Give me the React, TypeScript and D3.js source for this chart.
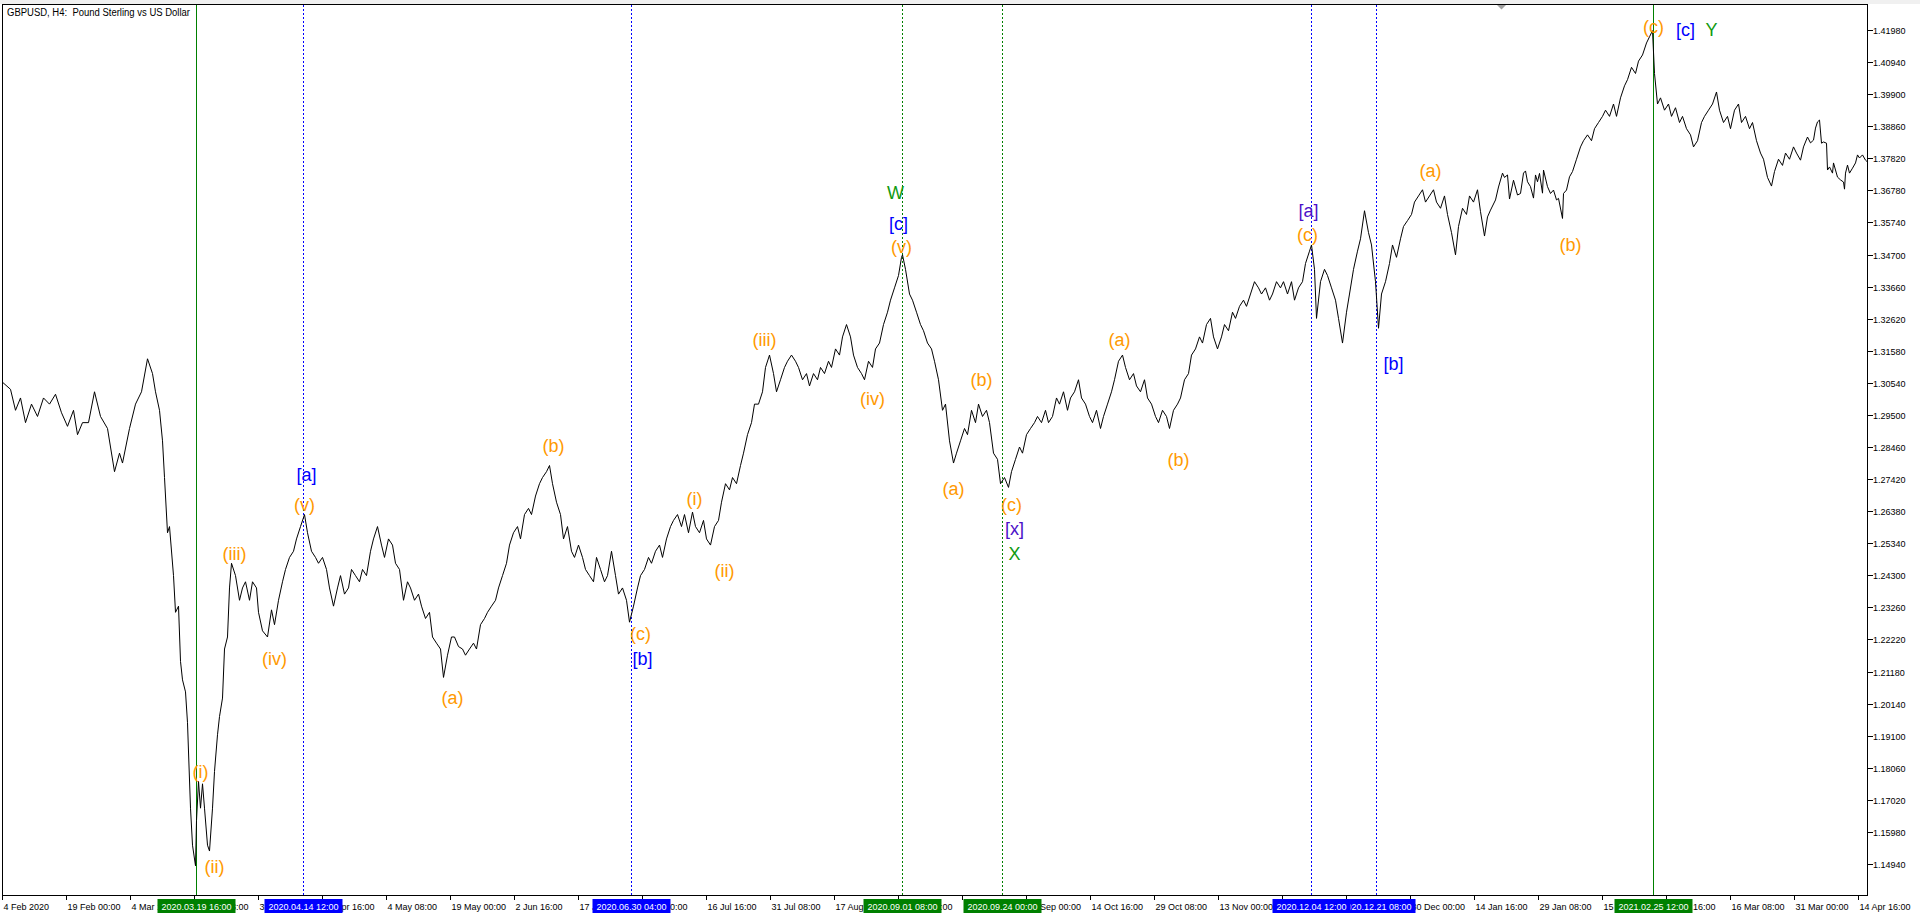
import React from 'react';
import * as d3 from 'd3';

// ---------- data ----------
const symbolTitle = 'GBPUSD, H4:  Pound Sterling vs US Dollar';

// right price axis tick values
const priceTicks = [
  1.4198, 1.4094, 1.399, 1.3886, 1.3782, 1.3678, 1.3574, 1.347, 1.3366, 1.3262,
  1.3158, 1.3054, 1.295, 1.2846, 1.2742, 1.2638, 1.2534, 1.243, 1.2326, 1.2222,
  1.2118, 1.2014, 1.191, 1.1806, 1.1702, 1.1598, 1.1494,
];

// bottom time axis: bar index of each tick and its label
const timeTickBars = [
  0, 64, 128, 192, 256, 320, 384, 448, 512, 576, 640, 704, 768, 832, 896, 960,
  1024, 1088, 1152, 1216, 1280, 1344, 1408, 1472, 1536, 1600, 1664, 1728, 1792, 1856,
];
const timeTickLabels = [
  '4 Feb 2020', '19 Feb 00:00', '4 Mar 16:00', '19 Mar 08:00', '3 Apr 00:00', '17 Apr 16:00',
  '4 May 08:00', '19 May 00:00', '2 Jun 16:00', '17 Jun 08:00', '2 Jul 00:00', '16 Jul 16:00',
  '31 Jul 08:00', '17 Aug 00:00', '31 Aug 16:00', '15 Sep 08:00', '30 Sep 00:00', '14 Oct 16:00',
  '29 Oct 08:00', '13 Nov 00:00', '27 Nov 16:00', '14 Dec 08:00', '30 Dec 00:00', '14 Jan 16:00',
  '29 Jan 08:00', '15 Feb 00:00', '1 Mar 16:00', '16 Mar 08:00', '31 Mar 00:00', '14 Apr 16:00',
];

// vertical marker lines
const markerBars = [194, 301, 629, 900, 1000, 1309, 1374, 1651];
const markerStamps = [
  '2020.03.19 16:00', '2020.04.14 12:00', '2020.06.30 04:00', '2020.09.01 08:00',
  '2020.09.24 00:00', '2020.12.04 12:00', '2020.12.21 08:00', '2021.02.25 12:00',
];
const markerKinds = ['major', 'minor', 'minor', 'middle', 'middle', 'minor', 'minor', 'major'];

// wave labels: text, bar, price, degree
const waveText = [
  '(i)', '(ii)', '(iii)', '(iv)', '(v)', '[a]', '(a)', '(b)', '(c)', '[b]',
  '(i)', '(ii)', '(iii)', '(iv)', '(v)', '[c]', 'W', '(a)', '(b)', '(c)', '[x]', 'X',
  '(a)', '(b)', '(c)', '[a]', '[b]', '(a)', '(b)', '(c)', '[c]', 'Y',
];
const waveBar = [
  198, 212, 232, 272, 302, 304, 450, 551, 638, 640,
  692, 722, 762, 870, 899, 896, 893, 951, 979, 1009, 1012, 1012,
  1117, 1176, 1305, 1306, 1391, 1428, 1568, 1651, 1683, 1709,
];
const wavePrice = [
  1.1794, 1.1484, 1.25, 1.2159, 1.2659, 1.2755, 1.2032, 1.285, 1.2242, 1.2159,
  1.2679, 1.2445, 1.3195, 1.3001, 1.3497, 1.3569, 1.3672, 1.2711, 1.3064, 1.2659, 1.258, 1.25,
  1.3195, 1.2806, 1.3533, 1.3612, 1.3116, 1.3743, 1.3501, 1.4208, 1.42, 1.42,
];
const waveDegree = [
  'minute', 'minute', 'minute', 'minute', 'minute', 'minor', 'minute', 'minute', 'minute', 'minor',
  'minute', 'minute', 'minute', 'minute', 'minute', 'minor', 'primary', 'minute', 'minute', 'minute', 'minorAlt', 'primary',
  'minute', 'minute', 'minute', 'minorAlt', 'minor', 'minute', 'minute', 'minute', 'minor', 'primary',
];

// H4 close line: [bar index, close]
const closeSeries: [number, number][] = [
  [0, 1.3056], [8, 1.3033], [13, 1.2965], [18, 1.3005], [23, 1.2925], [29, 1.2985], [35, 1.2945],
  [41, 1.3005], [47, 1.2985], [53, 1.3017], [59, 1.2957], [65, 1.2913], [71, 1.2965], [75, 1.2886],
  [80, 1.2925], [86, 1.2925], [92, 1.3025], [98, 1.2945], [105, 1.2906], [112, 1.2766], [117, 1.2826],
  [120, 1.2794], [127, 1.2906], [133, 1.2985], [139, 1.3025], [145, 1.3132], [150, 1.3084], [153, 1.3025],
  [157, 1.2965],
  [160, 1.2866], [162, 1.2747], [165, 1.2568], [167, 1.2588], [171, 1.2429], [173, 1.231], [176, 1.233],
  [178, 1.2151], [180, 1.2091], [183, 1.2052], [185, 1.1952], [188, 1.1675], [190, 1.1555], [193, 1.1488],
  [194, 1.1635], [196, 1.1762], [198, 1.1675], [200, 1.1754], [202, 1.1675], [205, 1.1555], [207, 1.1536],
  [210, 1.1675], [212, 1.1794], [215, 1.1913], [217, 1.1972], [220, 1.2032], [222, 1.2191], [225, 1.223],
  [227, 1.2389], [229, 1.2469],
  [233, 1.2429], [237, 1.2349], [240, 1.2389], [243, 1.2409], [247, 1.2349], [250, 1.2409], [254, 1.2389],
  [256, 1.231], [260, 1.225], [265, 1.223], [269, 1.2318], [272, 1.227], [276, 1.2349], [280, 1.2409],
  [283, 1.2449], [287, 1.2488], [291, 1.2508], [294, 1.2548], [298, 1.2588], [302, 1.2627], [305, 1.2568],
  [309, 1.2508], [313, 1.2488], [316, 1.2469],
  [320, 1.2488], [324, 1.2449], [327, 1.2389], [331, 1.233], [335, 1.2389], [338, 1.2429], [342, 1.2369],
  [346, 1.2389], [349, 1.2449], [353, 1.2429], [357, 1.2409], [360, 1.2449], [364, 1.2429], [368, 1.2508],
  [371, 1.2548], [375, 1.2588], [379, 1.2528], [382, 1.2488], [386, 1.2548], [390, 1.2528], [393, 1.2469],
  [397, 1.2449], [401, 1.2349], [405, 1.2409], [408, 1.2389], [412, 1.2349], [416, 1.2369], [419, 1.233],
  [423, 1.229], [427, 1.231], [430, 1.223], [434, 1.221],
  [438, 1.2191], [441, 1.2099], [445, 1.2171], [449, 1.223], [452, 1.223], [456, 1.2199], [460, 1.2191],
  [463, 1.2171], [467, 1.2191], [471, 1.221], [474, 1.2191], [478, 1.227], [482, 1.229], [485, 1.231],
  [489, 1.233], [493, 1.2349], [496, 1.2389], [500, 1.2429], [504, 1.2469], [507, 1.2528], [511, 1.2568],
  [515, 1.2588], [518, 1.2548], [522, 1.2627], [526, 1.2647], [529, 1.2627], [533, 1.2687], [537, 1.2727],
  [540, 1.2747], [544, 1.2766], [547, 1.2786],
  [550, 1.2727], [554, 1.2667], [558, 1.2627], [561, 1.2548], [565, 1.2588], [569, 1.2508], [572, 1.2488],
  [576, 1.2528], [580, 1.2488], [583, 1.2449], [587, 1.2429], [591, 1.2409], [594, 1.2488], [598, 1.2449],
  [602, 1.2409], [605, 1.2429], [609, 1.2508], [613, 1.2429], [616, 1.2369], [620, 1.2389], [624, 1.2349],
  [627, 1.2278],
  [631, 1.233], [635, 1.2389], [638, 1.2429], [642, 1.2449], [646, 1.2488], [649, 1.2469], [653, 1.2508],
  [657, 1.2528], [660, 1.2488], [664, 1.2548], [668, 1.2588], [671, 1.2608], [675, 1.2627], [679, 1.2588],
  [682, 1.2627], [686, 1.2568], [690, 1.2635], [693, 1.2588], [697, 1.2568], [701, 1.2608], [704, 1.2548],
  [708, 1.2528], [712, 1.2588], [716, 1.2608], [719, 1.2667], [723, 1.2727], [727, 1.2707], [730, 1.2747],
  [734, 1.2727], [738, 1.2786], [741, 1.2826], [745, 1.2886], [749, 1.2925], [752, 1.2985], [756, 1.2985],
  [760, 1.3025], [763, 1.3104], [767, 1.3144],
  [771, 1.3084], [774, 1.3025], [778, 1.3064], [782, 1.3104], [785, 1.3124], [789, 1.3144], [793, 1.3124],
  [796, 1.3104], [800, 1.3064], [804, 1.3084], [807, 1.3044], [811, 1.3084], [815, 1.3064], [818, 1.3104],
  [822, 1.3084], [826, 1.3124], [829, 1.3104], [833, 1.3164], [837, 1.3144], [840, 1.3203], [844, 1.3243],
  [848, 1.3203], [851, 1.3144], [855, 1.3104], [859, 1.3084], [862, 1.3064], [866, 1.3124], [870, 1.3104],
  [873, 1.3164], [877, 1.3183], [881, 1.3243], [885, 1.3283], [888, 1.3322], [892, 1.3362], [896, 1.3402],
  [899, 1.3461], [900, 1.3469],
  [903, 1.3422], [907, 1.3342], [910, 1.3322], [914, 1.3283], [918, 1.3243], [921, 1.3223], [925, 1.3183],
  [929, 1.3164], [932, 1.3124], [936, 1.3064], [940, 1.2965], [943, 1.2985], [947, 1.2866], [951, 1.2794],
  [954, 1.2826], [958, 1.2866], [962, 1.2906], [965, 1.2886], [969, 1.2965], [973, 1.2925], [976, 1.2985],
  [980, 1.2945], [984, 1.2965], [987, 1.2925], [991, 1.2826], [995, 1.2806], [998, 1.2727], [1002, 1.2747],
  [1006, 1.2715],
  [1009, 1.2766], [1013, 1.2806], [1017, 1.2846], [1020, 1.2826], [1024, 1.2886], [1028, 1.2906],
  [1032, 1.2925], [1035, 1.2945], [1039, 1.2925], [1043, 1.2965], [1046, 1.2925], [1050, 1.2945],
  [1054, 1.3005], [1057, 1.2985], [1061, 1.3025], [1065, 1.2965], [1068, 1.3005], [1072, 1.3025],
  [1076, 1.3064], [1079, 1.3005], [1083, 1.2985], [1087, 1.2945], [1090, 1.2925], [1094, 1.2965],
  [1098, 1.2906], [1101, 1.2945], [1105, 1.2985], [1109, 1.3025], [1112, 1.3064], [1116, 1.3124],
  [1120, 1.3144],
  [1123, 1.3104], [1127, 1.3064], [1131, 1.3084], [1134, 1.3044], [1138, 1.3025], [1142, 1.3064],
  [1145, 1.3005], [1149, 1.2985], [1153, 1.2945], [1156, 1.2925], [1160, 1.2965], [1164, 1.2945],
  [1167, 1.2906], [1171, 1.2965], [1175, 1.2985], [1178, 1.3005], [1182, 1.3064], [1186, 1.3084],
  [1189, 1.3144], [1193, 1.3164], [1197, 1.3203], [1200, 1.3183], [1204, 1.3243], [1208, 1.3263],
  [1211, 1.3203], [1215, 1.3164], [1219, 1.3203], [1222, 1.3243], [1226, 1.3223], [1230, 1.3283],
  [1233, 1.3263], [1237, 1.3302], [1241, 1.3322], [1244, 1.3302], [1248, 1.3342], [1252, 1.3382],
  [1256, 1.3362], [1259, 1.3342], [1263, 1.3362], [1267, 1.3322], [1270, 1.3342], [1274, 1.3382],
  [1278, 1.3362], [1281, 1.3382], [1285, 1.3342], [1289, 1.3382], [1292, 1.3322], [1296, 1.3362],
  [1300, 1.3382], [1303, 1.3441], [1307, 1.3481], [1309, 1.3501],
  [1312, 1.3422], [1314, 1.3263], [1318, 1.3382], [1322, 1.3422], [1325, 1.3402], [1329, 1.3362],
  [1333, 1.3322], [1336, 1.3263], [1340, 1.3183], [1344, 1.3283], [1347, 1.3342], [1351, 1.3422],
  [1355, 1.3481], [1358, 1.3521], [1362, 1.3612], [1366, 1.3541], [1369, 1.3501], [1373, 1.3382],
  [1376, 1.3231], [1379, 1.3342], [1383, 1.3382], [1387, 1.3441], [1390, 1.3501], [1394, 1.3461],
  [1398, 1.3521], [1401, 1.3561], [1405, 1.358], [1409, 1.36], [1412, 1.364], [1416, 1.366],
  [1420, 1.368], [1423, 1.364], [1427, 1.366], [1431, 1.368], [1434, 1.364], [1438, 1.362],
  [1442, 1.366], [1445, 1.36],
  [1449, 1.3541], [1453, 1.3469], [1456, 1.3561], [1460, 1.362], [1464, 1.36], [1467, 1.366],
  [1471, 1.364], [1475, 1.368], [1478, 1.3609], [1482, 1.353], [1485, 1.3592], [1488, 1.3614],
  [1493, 1.3647], [1496, 1.3689], [1500, 1.3734], [1502, 1.372], [1505, 1.3728], [1507, 1.365],
  [1511, 1.3711], [1515, 1.3663], [1518, 1.3668], [1521, 1.3734], [1523, 1.3741], [1525, 1.3706],
  [1528, 1.369], [1531, 1.3653], [1533, 1.3728], [1535, 1.3706], [1537, 1.3733], [1540, 1.3669],
  [1541, 1.3744], [1545, 1.369], [1548, 1.3668], [1551, 1.3679], [1554, 1.3647], [1556, 1.3652],
  [1560, 1.3587], [1561, 1.3668], [1564, 1.3679], [1567, 1.3722],
  [1570, 1.3739], [1574, 1.3779], [1578, 1.3819], [1581, 1.3839], [1585, 1.3858], [1589, 1.3839],
  [1592, 1.3878], [1596, 1.3898], [1600, 1.3918], [1603, 1.3938], [1607, 1.3918], [1611, 1.3958],
  [1614, 1.3918], [1618, 1.3978], [1622, 1.4017], [1625, 1.4037], [1629, 1.4077], [1633, 1.4057],
  [1636, 1.4097], [1640, 1.4117], [1644, 1.4156], [1647, 1.4176], [1650, 1.4196],
  [1652, 1.4057], [1655, 1.3958], [1658, 1.3978], [1662, 1.3938], [1666, 1.3958], [1669, 1.3918],
  [1673, 1.3946], [1677, 1.3898], [1680, 1.3918], [1684, 1.3878], [1688, 1.3858], [1691, 1.3819],
  [1695, 1.3839], [1699, 1.3898], [1702, 1.3918], [1706, 1.3938], [1710, 1.3958], [1714, 1.3997],
  [1717, 1.3938], [1721, 1.3898], [1725, 1.3918], [1728, 1.3878], [1732, 1.3938], [1736, 1.3958],
  [1739, 1.3898], [1743, 1.3918], [1747, 1.3878], [1750, 1.3898], [1754, 1.3839], [1758, 1.3799],
  [1761, 1.3779], [1765, 1.372], [1769, 1.3692], [1772, 1.3739], [1776, 1.3779], [1780, 1.3759],
  [1783, 1.3799], [1787, 1.3779], [1791, 1.3819], [1794, 1.3799],
  [1798, 1.3776], [1801, 1.3819], [1805, 1.3851], [1808, 1.3832], [1811, 1.3841], [1813, 1.388],
  [1815, 1.39], [1817, 1.3906], [1819, 1.3831], [1821, 1.3835], [1824, 1.3831], [1825, 1.3744],
  [1827, 1.3754], [1830, 1.3734], [1831, 1.3767], [1835, 1.3721], [1838, 1.3712], [1841, 1.3705],
  [1842, 1.3682], [1843, 1.3734], [1845, 1.376], [1847, 1.3734], [1850, 1.375], [1853, 1.3767],
  [1855, 1.3793], [1857, 1.3783], [1860, 1.3793], [1863, 1.3776], [1865, 1.377],
];

// ---------- styles ----------
const FONT = "'Liberation Sans', Arial, sans-serif";
const markerStyle: Record<string, { color: string; dash?: string }> = {
  major: { color: '#008000' },
  middle: { color: '#008000', dash: '2,2' },
  minor: { color: '#0000FF', dash: '2,2' },
};
const degreeColor: Record<string, string> = {
  minute: '#FF9900',
  minor: '#0000FF',
  minorAlt: '#4B10C8',
  primary: '#109A10',
};

const W = 1920;
const H = 916;
const L = 2.5;
const T = 4.5;
const R = 1867.5;
const B = 895.5;

export default function App() {
  const x = d3.scaleLinear().domain([0, 1865]).range([2.5, 1867.5]);
  const y = d3.scaleLinear().domain([1.1494, 1.4198]).range([864, 30]);
  const line = d3
    .line<[number, number]>()
    .x((d) => x(d[0]))
    .y((d) => y(d[1]));

  const boxOrder = markerBars.map((_, i) => i).reverse();

  return (
    <div style={{ position: 'absolute', left: 0, top: 0, width: W, height: H, background: '#fff' }}>
      <svg width={W} height={H} style={{ display: 'block' }}>
        <rect x={0} y={0} width={W} height={H} fill="#ffffff" />
        <rect x={0} y={0} width={W} height={4} fill="#F0F0F0" />
        <defs>
          <clipPath id="plot">
            <rect x={L} y={T} width={R - L} height={B - T} />
          </clipPath>
        </defs>

        {/* marker lines */}
        {markerBars.map((b, i) => {
          const st = markerStyle[markerKinds[i]];
          const xx = Math.round(x(b) - 0.5) + 0.5;
          return (
            <line
              key={'m' + i}
              x1={xx}
              x2={xx}
              y1={T}
              y2={B}
              stroke={st.color}
              strokeWidth={1}
              strokeDasharray={st.dash}
              shapeRendering="crispEdges"
            />
          );
        })}

        {/* price line */}
        <path
          d={line(closeSeries) || ''}
          fill="none"
          stroke="#000"
          strokeWidth={1}
          clipPath="url(#plot)"
          strokeLinejoin="miter"
        />

        {/* wave labels */}
        {waveText.map((t, i) => (
          <text
            key={'w' + i}
            x={x(waveBar[i])}
            y={y(wavePrice[i])}
            dy="0.35em"
            textAnchor="middle"
            fontFamily={FONT}
            fontSize={18}
            fill={degreeColor[waveDegree[i]]}
          >
            {t}
          </text>
        ))}

        {/* frame */}
        <path
          d={`M${L},${B} L${L},${T} L${R},${T} L${R},${B} Z`}
          fill="none"
          stroke="#000"
          strokeWidth={1}
          shapeRendering="crispEdges"
        />

        {/* chart shift marker */}
        <polygon points="1497,5 1506,5 1501.5,9.5" fill="#A0A0A0" />

        {/* title */}
        <text
          x={7}
          y={16}
          fontFamily={FONT}
          fontSize={10}
          fill="#000"
          textLength={183}
          lengthAdjust="spacingAndGlyphs"
          style={{ whiteSpace: 'pre' }}
        >
          {symbolTitle}
        </text>

        {/* right price axis */}
        {priceTicks.map((p, i) => {
          const yy = Math.round(y(p)) + 0.5;
          return (
            <g key={'p' + i}>
              <line x1={R} x2={R + 5} y1={yy} y2={yy} stroke="#000" shapeRendering="crispEdges" />
              <text x={1873} y={yy} dy="0.35em" fontFamily={FONT} fontSize={9} fill="#000">
                {p.toFixed(5)}
              </text>
            </g>
          );
        })}

        {/* bottom time axis */}
        {timeTickBars.map((b, i) => {
          const xx = Math.round(x(b) - 0.5) + 0.5;
          return (
            <g key={'t' + i}>
              <line x1={xx} x2={xx} y1={B} y2={B + 4} stroke="#000" shapeRendering="crispEdges" />
              <text x={xx + 1} y={909.5} fontFamily={FONT} fontSize={9} fill="#000">
                {timeTickLabels[i]}
              </text>
            </g>
          );
        })}

        {/* marker time boxes */}
        {boxOrder.map((i) => {
          const st = markerStyle[markerKinds[i]];
          const xx = x(markerBars[i]);
          return (
            <g key={'bx' + i}>
              <rect x={xx - 39} y={899} width={78} height={14} fill={st.color} />
              <text
                x={xx}
                y={909.5}
                textAnchor="middle"
                fontFamily={FONT}
                fontSize={9}
                fill="#fff"
              >
                {markerStamps[i]}
              </text>
            </g>
          );
        })}
      </svg>
    </div>
  );
}
